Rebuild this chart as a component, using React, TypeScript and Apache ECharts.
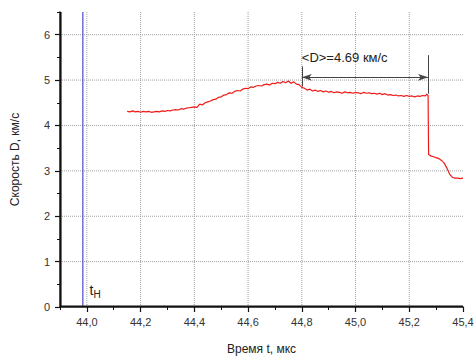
import React, { useEffect, useRef } from "react";
import * as echarts from "echarts";

const xMajorTicks = [44.0, 44.2, 44.4, 44.6, 44.8, 45.0, 45.2, 45.4];
const xGridValues = [44.0, 44.2, 44.4, 44.6, 44.8, 45.0, 45.2];
const xMinorTicks = [43.9, 44.1, 44.3, 44.5, 44.7, 44.9, 45.1, 45.3];
const yMajorTicks = [0, 1, 2, 3, 4, 5, 6];
const yGridValues = [1, 2, 3, 4, 5, 6];
const yMinorTicks = [0.5, 1.5, 2.5, 3.5, 4.5, 5.5, 6.5];

const tStart = 43.985; // t_н marker
const meanSpan = [44.8, 45.27];
const meanValue = 4.69;

const time = [
  44.15, 44.16, 44.17, 44.18, 44.19, 44.2, 44.21, 44.22, 44.23, 44.24,
  44.25, 44.26, 44.27, 44.28, 44.29, 44.3, 44.31, 44.32, 44.33, 44.34,
  44.35, 44.36, 44.37, 44.38, 44.39, 44.4, 44.41, 44.42, 44.43, 44.44,
  44.45, 44.46, 44.47, 44.48, 44.49, 44.5, 44.51, 44.52, 44.53, 44.54,
  44.55, 44.56, 44.57, 44.58, 44.59, 44.6, 44.61, 44.62, 44.63, 44.64,
  44.65, 44.66, 44.67, 44.68, 44.69, 44.7, 44.71, 44.72, 44.73, 44.74,
  44.75, 44.76, 44.77, 44.78, 44.79, 44.8, 44.81, 44.82, 44.83, 44.84,
  44.85, 44.86, 44.87, 44.88, 44.89, 44.9, 44.91, 44.92, 44.93, 44.94,
  44.95, 44.96, 44.97, 44.98, 44.99, 45.0, 45.01, 45.02, 45.03, 45.04,
  45.05, 45.06, 45.07, 45.08, 45.09, 45.1, 45.11, 45.12, 45.13, 45.14,
  45.15, 45.16, 45.17, 45.18, 45.19, 45.2, 45.21, 45.22, 45.23, 45.24,
  45.25, 45.26, 45.265, 45.27, 45.272, 45.28, 45.29, 45.3, 45.31, 45.32,
  45.33, 45.34, 45.35, 45.36, 45.37, 45.38, 45.39, 45.4,
];

const speed = [
  4.31, 4.3, 4.32, 4.3, 4.31, 4.29, 4.31, 4.3, 4.31, 4.29,
  4.3, 4.31, 4.3, 4.32, 4.31, 4.33, 4.32, 4.34, 4.35, 4.34,
  4.37, 4.36, 4.38, 4.39, 4.4, 4.41, 4.4, 4.47, 4.45, 4.5,
  4.52, 4.54, 4.57, 4.58, 4.62, 4.63, 4.67, 4.68, 4.72, 4.71,
  4.75, 4.77, 4.76, 4.8, 4.82, 4.81, 4.85, 4.84, 4.87, 4.88,
  4.87, 4.9, 4.91, 4.89, 4.93, 4.92, 4.95, 4.93, 4.97, 4.94,
  4.98, 4.93, 4.96, 4.91, 4.9, 4.84, 4.82, 4.78, 4.8, 4.76,
  4.78, 4.75, 4.77, 4.74, 4.76, 4.73, 4.75, 4.72, 4.74, 4.73,
  4.71, 4.74, 4.72, 4.73, 4.71, 4.73, 4.72, 4.7, 4.73, 4.71,
  4.72, 4.7, 4.71, 4.69, 4.71, 4.68, 4.7, 4.67, 4.68, 4.66,
  4.67, 4.65, 4.66, 4.64, 4.66, 4.64, 4.65, 4.63, 4.65, 4.64,
  4.66, 4.65, 4.69, 4.66, 3.36, 3.33, 3.31, 3.29, 3.27, 3.23,
  3.17, 3.06, 2.93, 2.86, 2.84, 2.84, 2.83, 2.84,
];

const FONT = "'Liberation Sans', Arial, sans-serif";

export default function App() {
  const ref = useRef<HTMLDivElement>(null);
  useEffect(() => {
    if (!ref.current) return;
    const chart = echarts.init(ref.current, undefined, { renderer: "svg" });
    const xMin = 43.9;
    const xMax = 45.4;
    const yMin = 0;
    const yMax = 6.5;
    const data = time.map((t, i) => [t, speed[i]]);

    const segment = (pts: number[][], color: string, width: number, dash: string, z: number) => ({
      type: "line",
      xAxisIndex: 0,
      yAxisIndex: 0,
      data: pts,
      showSymbol: false,
      symbol: "none",
      silent: true,
      clip: false,
      z,
      lineStyle: { color, width, type: dash },
    });
    const gridSeries = [
      ...xGridValues.map((v) => segment([[v, yMin], [v, yMax]], "#a0a0a0", 1, "dotted", 1)),
      ...yGridValues.map((v) => segment([[xMin, v], [xMax, v]], "#a0a0a0", 1, "dotted", 1)),
    ];

    // axis frame drawn just inside the plotting rectangle
    const axisFrame = {
      type: "custom",
      xAxisIndex: 0,
      yAxisIndex: 0,
      silent: true,
      clip: false,
      z: 100,
      data: [[xMin, yMin, xMax, yMax]],
      renderItem: (params: any, api: any) => {
        const o = api.coord([api.value(0), api.value(1)]);
        const r = api.coord([api.value(2), api.value(1)]);
        const t = api.coord([api.value(0), api.value(3)]);
        const fill = { fill: "#111111" };
        return {
          type: "group",
          children: [
            {
              type: "rect",
              shape: { x: o[0], y: o[1] - 1.6, width: r[0] - o[0], height: 1.6 },
              style: fill,
            },
            {
              type: "rect",
              shape: { x: o[0], y: t[1], width: 1.6, height: o[1] - t[1] },
              style: fill,
            },
          ],
        };
      },
    };

    chart.setOption({
      animation: false,
      backgroundColor: "#ffffff",
      textStyle: { fontFamily: FONT },
      grid: { left: 60, right: 13, top: 12, bottom: 49, containLabel: false, outerBoundsMode: "none" },
      xAxis: [
        {
          type: "value",
          min: xMin,
          max: xMax,
          name: "Время t, мкс",
          nameLocation: "middle",
          nameGap: 36,
          nameTextStyle: { fontSize: 12, color: "#222", fontFamily: FONT },
          axisLine: { show: true, onZero: false, lineStyle: { color: "#111", width: 1.5 } },
          axisTick: { show: true, customValues: xMajorTicks, length: 5, lineStyle: { color: "#111", width: 1.2 } },
          axisLabel: {
            customValues: xMajorTicks,
            margin: 9,
            fontSize: 11,
            color: "#333",
            fontFamily: FONT,
            formatter: (v: number) => v.toFixed(1).replace(".", ","),
          },
          splitLine: { show: false },
        },
        {
          type: "value",
          min: xMin,
          max: xMax,
          position: "bottom",
          axisLine: { show: false, onZero: false },
          axisTick: { show: true, customValues: xMinorTicks, length: 3, lineStyle: { color: "#111", width: 1 } },
          axisLabel: { show: false },
          splitLine: { show: false },
        },
      ],
      yAxis: [
        {
          type: "value",
          min: yMin,
          max: yMax,
          name: "Скорость D, км/с",
          nameLocation: "middle",
          nameGap: 39,
          nameTextStyle: { fontSize: 12, color: "#222", fontFamily: FONT },
          axisLine: { show: true, onZero: false, lineStyle: { color: "#111", width: 1.5 } },
          axisTick: { show: true, customValues: yMajorTicks, length: 5, lineStyle: { color: "#111", width: 1.2 } },
          axisLabel: { customValues: yMajorTicks, margin: 10, fontSize: 11, color: "#333", fontFamily: FONT },
          splitLine: { show: false },
        },
        {
          type: "value",
          min: yMin,
          max: yMax,
          position: "left",
          axisLine: { show: false, onZero: false },
          axisTick: { show: true, customValues: yMinorTicks, length: 3, lineStyle: { color: "#111", width: 1 } },
          axisLabel: { show: false },
          splitLine: { show: false },
        },
      ],
      series: [
        ...gridSeries,
        axisFrame,
        {
          type: "line",
          xAxisIndex: 0,
          yAxisIndex: 0,
          data: [
            [tStart, yMin],
            [tStart, yMax],
          ],
          showSymbol: false,
          silent: true,
          clip: false,
          z: 3,
          lineStyle: { color: "#4b4bd2", width: 1.2 },
          markPoint: {
            symbol: "circle",
            symbolSize: 0,
            silent: true,
            data: [
              {
                coord: [tStart + 0.025, 0.38],
                label: {
                  show: true,
                  position: "right",
                  distance: 0,
                  formatter: "{t|t}{s|Н}",
                  rich: {
                    t: { fontSize: 14, color: "#222", fontFamily: FONT },
                    s: { fontSize: 10, color: "#222", fontFamily: FONT, padding: [10, 0, 0, 0] },
                  },
                },
              },
            ],
          },
        },
        {
          type: "line",
          xAxisIndex: 0,
          yAxisIndex: 0,
          data,
          showSymbol: false,
          z: 4,
          lineStyle: { color: "#ee1a1a", width: 1.2 },
          markLine: {
            silent: true,
            symbol: ["none", "none"],
            lineStyle: { color: "#444", type: "solid", width: 1 },
            label: { show: false },
            data: [
              [
                { coord: [meanSpan[0], 5.06], symbol: "arrow", symbolSize: [5, 10] },
                { coord: [meanSpan[1], 5.06], symbol: "arrow", symbolSize: [5, 10] },
              ],
              [{ coord: [meanSpan[0], 4.86] }, { coord: [meanSpan[0], 5.3] }],
              [{ coord: [meanSpan[1], 4.7] }, { coord: [meanSpan[1], 5.55] }],
            ],
          },
          markPoint: {
            symbol: "circle",
            symbolSize: 0,
            silent: true,
            data: [
              {
                coord: [meanSpan[0], 5.5],
                label: {
                  show: true,
                  position: "right",
                  distance: 0,
                  formatter: `<D>=${meanValue.toFixed(2)} км/с`,
                  fontSize: 13,
                  color: "#222",
                  fontFamily: FONT,
                },
              },
            ],
          },
        },
      ],
    });
    return () => chart.dispose();
  }, []);
  return (
    <div
      ref={ref}
      style={{ position: "fixed", left: 0, top: 0, width: 476, height: 356, background: "#fff" }}
    />
  );
}
